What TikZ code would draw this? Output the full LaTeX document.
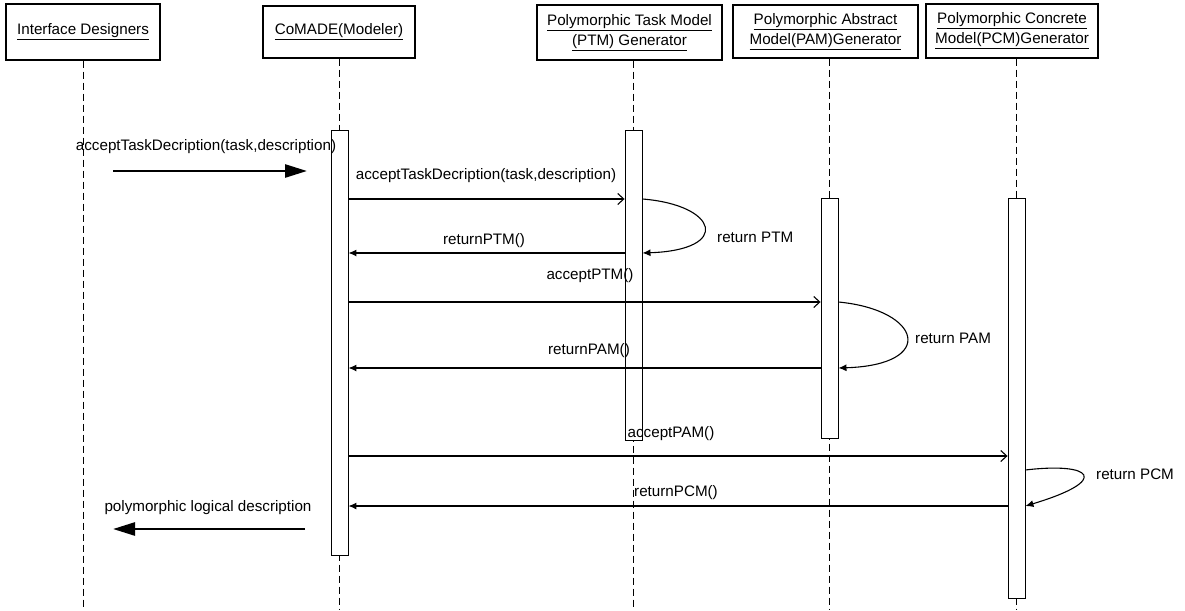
\documentclass[tikz,border=0pt]{standalone}
\usepackage{fontspec}
\setmainfont{Liberation Sans}
\usetikzlibrary{arrows.meta}
\begin{document}
\begin{tikzpicture}[x=1pt,y=-1pt,
  txt/.style={font=\fontsize{15.2}{20}\selectfont, inner sep=0pt},
  head/.style={draw, line width=1.1pt, txt, align=center},
  lifeline/.style={line width=0.8pt, dash pattern=on 7pt off 4pt},
  actbar/.style={draw, fill=white, line width=0.9pt, minimum width=17pt, inner sep=0pt, anchor=north},
  call/.style={line width=1.1pt, -{Straight Barb[length=6pt,width=11pt]}},
  reply/.style={line width=1.1pt, -{Latex[length=8pt,width=7pt]}},
  bigarrow/.style={line width=2.6pt, -{Triangle[length=22pt,width=13pt]}},
  lbl/.style={txt}]
\useasboundingbox (0,0) rectangle (1185,610);
\fill[white] (0,0) rectangle (1185,610);

% object heads
\node[head, minimum width=154pt, minimum height=56pt] (hID) at (83,32) {\underline{Interface Designers}};
\node[head, minimum width=152pt, minimum height=52pt] (hCo) at (339,32) {\underline{CoMADE(Modeler)}};
\node[head, minimum width=185pt, minimum height=55pt] (hPTM) at (629.5,32.5) {\underline{Polymorphic Task Model}\\\underline{(PTM) Generator}};
\node[head, minimum width=185pt, minimum height=53pt] (hPAM) at (825.5,31.5) {\underline{Polymorphic Abstract}\\\underline{Model(PAM)Generator}};
\node[head, minimum width=172pt, minimum height=54pt] (hPCM) at (1012,31) {\underline{Polymorphic Concrete}\\\underline{Model(PCM)Generator}};

\coordinate (bot) at (0,610);

% activation bar outlines (placed first so lifelines can refer to them)
\node[actbar, draw=none, fill=none, minimum height=425pt] (cbar) at (339.5,130) {};
\node[actbar, draw=none, fill=none, minimum height=310pt] (tbar) at (633.5,130) {};
\node[actbar, draw=none, fill=none, minimum height=240pt] (abar) at (829.5,198) {};
\node[actbar, draw=none, fill=none, minimum height=400pt] (pbar) at (1016.5,198) {};

% lifelines
\draw[lifeline] (hID.south) -- (hID.south |- bot);
\draw[lifeline] (cbar.north |- hCo.south) -- (cbar.north |- bot);
\draw[lifeline] (tbar.north |- hPTM.south) -- (tbar.north |- bot);
\draw[lifeline] (abar.north |- hPAM.south) -- (abar.north |- bot);
\draw[lifeline] (pbar.north |- hPCM.south) -- (pbar.north |- bot);

% bars drawn over the lifelines
\node[actbar, minimum height=425pt] (cbarf) at (339.5,130) {};
\node[actbar, minimum height=310pt] (tbarf) at (633.5,130) {};
\node[actbar, minimum height=240pt] (abarf) at (829.5,198) {};
\node[actbar, minimum height=400pt] (pbarf) at (1016.5,198) {};

% message levels
\coordinate (m2) at (0,199);
\coordinate (m3) at (0,253);
\coordinate (m5) at (0,302);
\coordinate (m7) at (0,368);
\coordinate (m8) at (0,456);
\coordinate (m9) at (0,470);
\coordinate (m10) at (0,506);

% incoming request from the designers
\coordinate (inS) at (113,171);
\coordinate (inE) at (307,171);
\draw[bigarrow] (inS) -- (inE);
\node[lbl] (l1) at (206,147) {acceptTaskDecription(task,description)};

% CoMADE -> PTM generator
\draw[call] (cbar.east |- m2) -- (tbar.west |- m2);
\node[lbl] (l2) at (486,176) {acceptTaskDecription(task,description)};
\draw[reply] (tbar.east |- m2) .. controls (718,205) and (732,250) .. (tbar.east |- m3);
\node[lbl, anchor=west] (l3) at (717,237) {return PTM};
\draw[reply] (tbar.west |- m3) -- (cbar.east |- m3);
\node[lbl] (l4) at (484,241) {returnPTM()};

% CoMADE -> PAM generator
\draw[call] (cbar.east |- m5) -- (abar.west |- m5);
\node[lbl] (l5) at (590,276) {acceptPTM()};
\draw[reply] (abar.east |- m5) .. controls (922,310) and (937,365) .. (abar.east |- m7);
\node[lbl, anchor=west] (l6) at (915,338) {return PAM};
\draw[reply] (abar.west |- m7) -- (cbar.east |- m7);
\node[lbl] (l7) at (589,351) {returnPAM()};

% CoMADE -> PCM generator
\draw[call] (cbar.east |- m8) -- (pbar.west |- m8);
\node[lbl] (l8) at (671,434) {acceptPAM()};
\draw[reply] (pbar.east |- m9) .. controls (1092,462) and (1112,480) .. (pbar.east |- m10);
\node[lbl, anchor=west] (l9) at (1096,474) {return PCM};
\draw[reply] (pbar.west |- m10) -- (cbar.east |- m10);
\node[lbl] (l10) at (676,493) {returnPCM()};

% result handed back to the designers
\coordinate (outS) at (305,529);
\coordinate (outE) at (113,529);
\draw[bigarrow] (outS) -- (outE);
\node[lbl] (l11) at (208,508) {polymorphic logical description};
\end{tikzpicture}
\end{document}
